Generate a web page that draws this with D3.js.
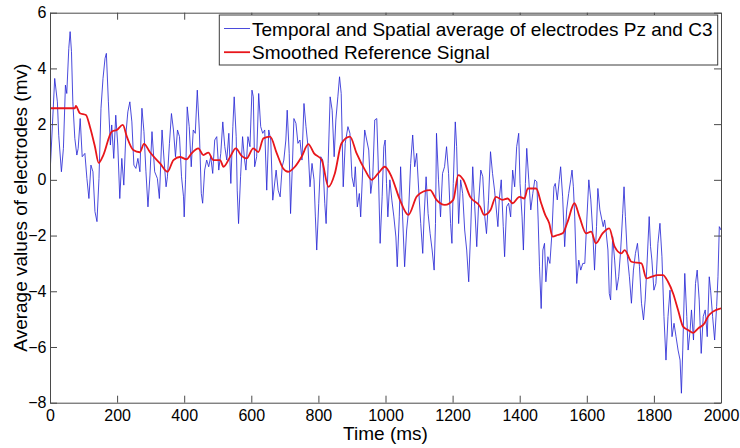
<!DOCTYPE html>
<html>
<head>
<meta charset="utf-8">
<script src="https://cdn.jsdelivr.net/npm/d3@7"></script>
<style>
  html, body { margin: 0; padding: 0; background: #ffffff; }
  svg { display: block; font-family: "Liberation Sans", Arial, sans-serif; }
</style>
</head>
<body>
<svg id="chart" width="740" height="448"></svg>
<script>
// Averaged electrode signal, [time (ms), amplitude (mv)]
const signal = [
  [0,0.2],[14,3.64],[22,2.8],[26,1.6],[34,0.29],[40,1.13],[46,3.4],[50,3.1],[56,4.72],[60,5.32],[64,4.6],[68,2.8],[74,1.49],[80,0.89],[84,1.13],[90,2.2],[96,0.83],[104,0.95],[110,0.05],[116,-0.67],[122,0.53],[128,0.29],[134,-1.14],[140,-1.5],[146,0.05],[152,2.57],[158,3.64],[164,4.36],[168,4.54],[174,2.8],[180,1.25],[184,1.97],[190,0.77],[196,2.32],[202,1.25],[208,-0.67],[214,0.77],[220,-0.19],[226,1.6],[232,2.44],[238,2.8],[244,2.08],[250,0.53],[256,0.41],[262,0.77],[268,0.29],[274,2.57],[280,1.73],[286,0.29],[292,-0.97],[298,0.17],[304,1.73],[312,0.29],[320,0.05],[326,-0.67],
  [334,1.79],[340,0.71],[346,-0.25],[350,0.11],[356,1.31],[362,2.38],[368,1.79],[374,0.83],[380,1.79],[386,1.55],[392,0.11],[398,-0.61],[400,-1.33],[404,0],[409,2.62],[415,1.91],[421,0.47],[427,1.79],[433,1.67],[439,3.22],[445,1.79],[451,-0.49],[455,-0.84],[461,0.35],[467,0.71],[473,0.47],[479,0.83],[485,0.23],[491,1.43],[497,1.55],[503,0.35],[509,0.95],[515,2.08],[521,1.19],[527,0.71],[533,1.67],[539,-0.13],[545,1.91],[549,2.98],[555,1.55],[558,-0.37],[562,-1.57],[568,0.11],[574,1.55],[580,0.71],[584,0.35],[590,1.55],[596,1.19],[602,3.22],[606,2.98],[610,0.47],[616,0.83],[622,3.1],[628,1.91],[634,1.67],[640,1.79],[646,-0.37],[652,1.79],[658,1.43],[664,-0.73],
  [674,0.35],[680,-0.37],[686,-0.61],[692,0.47],[697,0.71],[703,1.43],[707,2.5],[713,0.95],[717,-1.21],[723,0.71],[727,2.2],[733,2.03],[739,1.31],[745,1.43],[751,0.71],[757,2.74],[763,1.91],[769,1.19],[775,-0.25],[781,0.59],[787,0],[791,-1.33],[795,-2.52],[801,-0.84],[807,0.83],[813,0.71],[819,-0.84],[823,-1.57],[829,0.59],[835,2.98],[841,2.5],[847,0.83],[852,2.15],[858,2.98],[863,3.7],[868,3.1],[874,-0.25],[880,1.31],[888,1.91],[894,1.67],[900,0.11],[906,-0.25],[910,0.47],[916,-0.97],[922,-0.49],[926,-1.33],[932,0.35],[938,1.79],[944,1.43],[950,1.07],[956,-0.49],[962,0.11],[968,2.15],[974,2.2],[978,0.71],[984,-2.28],[990,-0.61],
  [995,1.19],[999,1.43],[1003,-0.13],[1007,-1.33],[1013,0],[1019,-0.73],[1025,-1.33],[1031,-2.05],[1035,-3.12],[1041,-1.33],[1045,0.47],[1051,-1.33],[1057,-3.12],[1063,-1.8],[1069,-1.08],[1075,0.59],[1081,1.61],[1087,0.47],[1093,0.95],[1099,-0.37],[1105,-1.57],[1111,-2.64],[1115,-1.33],[1121,0.11],[1127,-1.21],[1133,-1.93],[1139,-2.52],[1145,-3.24],[1149,-1.57],[1152,1.67],[1158,0],[1164,-1.33],[1170,0.23],[1176,0.47],[1182,1.19],[1188,0.23],[1194,-1.57],[1198,-2.28],[1202,-0.13],[1208,2.08],[1212,1.19],[1218,-1.57],[1224,0],[1230,-0.49],[1236,-1.8],[1242,-2.52],[1248,-3.66],[1254,-1.8],[1260,0.47],[1266,-0.97],[1272,-2.4],[1278,-0.73],[1284,0.35],[1290,0.11],[1296,-1.33],[1301,-1.93],[1307,-0.73],[1313,1.01],[1319,0.23],[1325,-0.37],
  [1335,-1.68],[1339,-0.72],[1345,0],[1351,-1.68],[1355,-2.76],[1361,-0.96],[1367,-0.84],[1373,-1.33],[1379,0.35],[1385,-0.25],[1391,1.19],[1397,1.67],[1401,-0.13],[1407,-1.33],[1411,-2.52],[1417,-0.13],[1421,1.13],[1427,0],[1433,-1.08],[1439,-0.49],[1445,0],[1451,-0.07],[1455,-1.44],[1459,-3.12],[1464,-4.62],[1469,-2.52],[1474,-2.28],[1478,-3.66],[1484,-2.76],[1490,-3.0],[1496,-1.92],[1502,-0.25],[1506,-0.13],[1512,-0.72],[1518,0],[1522,0.47],[1528,-0.61],[1534,-2.4],[1540,-1.08],[1546,-0.49],[1552,0],[1556,0.35],[1560,-0.25],[1564,-1.33],[1570,-3.72],[1576,-2.88],[1582,-3.24],[1588,-3.0],[1594,-3.0],[1600,-1.44],[1606,0],[1612,-0.72],[1618,-1.92],[1623,-3.24],[1629,-1.68],[1633,-0.31],[1639,-1.08],[1645,-1.44],[1649,-1.68],[1653,-1.44],[1657,-1.8],[1663,-2.52],[1667,-4.08],
  [1671,-4.31],[1677,-2.04],[1683,-2.88],[1689,-3.96],[1695,-3.48],[1701,-2.52],[1707,-1.2],[1711,-0.25],[1715,-1.32],[1721,-2.76],[1727,-3.48],[1733,-4.43],[1739,-3.24],[1745,-2.64],[1751,-2.28],[1757,-3.12],[1763,-4.43],[1769,-5.03],[1774,-4.31],[1780,-2.88],[1786,-1.32],[1790,-2.4],[1794,-2.88],[1800,-3.96],[1806,-3.72],[1812,-2.28],[1818,-1.56],[1824,-2.76],[1830,-4.91],[1836,-6.47],[1842,-4.91],[1848,-3.96],[1854,-5.63],[1860,-5.15],[1866,-5.63],[1872,-6.11],[1878,-6.47],[1882,-7.66],[1886,-6.11],[1892,-3.36],[1898,-4.91],[1902,-6.11],[1908,-5.39],[1912,-4.67],[1918,-5.75],[1924,-3.72],[1929,-3.24],[1935,-4.31],[1941,-6.23],[1947,-4.91],[1953,-4.67],[1959,-5.63],[1965,-3.48],[1969,-3.96],[1975,-4.91],[1981,-5.75],[1987,-4.55],[1991,-3.48],[1995,-1.68],[2000,-1.8]
];

// Smoothed reference, [time (ms), amplitude (mv)]
const smoothed = [
  [0,2.57],[74,2.57],[77,2.65],[89,2.39],[107,2.33],[119,1.91],[134,1.19],[145,0.61],[159,0.89],[184,1.73],[199,1.79],[217,1.97],[229,1.55],[248,1.07],[268,0.99],[280,1.29],[298,0.99],[328,0.59],[350,0.29],[368,0.71],[387,0.82],[407,0.74],[422,0.95],[442,1.13],[457,0.89],[472,0.98],[487,0.71],[507,0.71],[517,0.47],[537,0.83],[554,1.13],[571,0.86],[586,0.77],[606,1.13],[621,1.0],[636,1.49],[656,1.55],[676,0.95],[695,0.41],[710,0.29],[730,0.47],[750,0.83],[770,1.28],[787,0.95],[810,0.71],[830,-0.25],[849,0.23],[869,1.31],[894,1.55],[914,0.95],[939,0.35],[959,0.0],[978,0.23],[998,0.47],[1018,0.11],[1043,-0.72],[1068,-1.26],[1093,-0.6],[1113,-0.42],[1133,-0.37],[1152,-0.72],[1177,-0.9],[1202,-0.72],[1217,0.17],[1232,0.0],[1252,-0.6],[1282,-0.96],[1294,-1.26],[1313,-1.08],[1329,-0.61],[1349,-0.72],[1364,-0.67],[1379,-0.84],[1399,-0.61],[1414,-0.67],[1424,-0.31],[1449,-0.31],[1464,-0.84],[1476,-1.26],[1488,-1.56],[1498,-2.04],[1513,-1.98],[1528,-1.92],[1543,-1.5],[1563,-0.84],[1578,-1.32],[1598,-1.92],[1613,-1.86],[1627,-2.28],[1647,-1.92],[1667,-1.74],[1683,-2.4],[1703,-2.64],[1713,-2.52],[1733,-2.94],[1763,-3.0],[1778,-3.54],[1792,-3.48],[1812,-3.42],[1827,-3.42],[1842,-3.66],[1857,-4.07],[1872,-4.67],[1887,-5.27],[1902,-5.39],[1917,-5.49],[1932,-5.33],[1951,-5.15],[1961,-4.91],[1976,-4.73],[2000,-4.61]
];

const xTicks = [0, 200, 400, 600, 800, 1000, 1200, 1400, 1600, 1800, 2000];
const yTicks = [-8, -6, -4, -2, 0, 2, 4, 6];
const seriesNames = [
  "Temporal and Spatial average of electrodes Pz and C3",
  "Smoothed Reference Signal"
];
const seriesColors = ["#2a2ad6", "#e8161b"];

const svg = d3.select("#chart");
const W = 740, H = 448;
const margin = { top: 12.7, right: 19, bottom: 45.3, left: 50 };
const iw = W - margin.left - margin.right;
const ih = H - margin.top - margin.bottom;

svg.append("rect").attr("width", W).attr("height", H).attr("fill", "#ffffff");

const x = d3.scaleLinear().domain([0, 2000]).range([0, iw]);
const y = d3.scaleLinear().domain([-8, 6]).range([ih, 0]);

const g = svg.append("g").attr("transform", `translate(${margin.left},${margin.top})`);

g.append("defs").append("clipPath").attr("id", "plotClip")
  .append("rect").attr("width", iw).attr("height", ih);

const line = d3.line().x(d => x(d[0])).y(d => y(d[1]));
const smoothLine = d3.line().x(d => x(d[0])).y(d => y(d[1])).curve(d3.curveMonotoneX);

const plot = g.append("g").attr("clip-path", "url(#plotClip)");
plot.append("path").datum(signal)
  .attr("d", line)
  .attr("fill", "none")
  .attr("stroke", seriesColors[0])
  .attr("stroke-width", 0.85)
  .attr("stroke-linejoin", "round");
plot.append("path").datum(smoothed)
  .attr("d", smoothLine)
  .attr("fill", "none")
  .attr("stroke", seriesColors[1])
  .attr("stroke-width", 1.8)
  .attr("stroke-linejoin", "round");

// Boxed axes with inward ticks
const axisColor = "#4a4a4a";
function styleAxis(sel) {
  sel.selectAll(".domain").attr("stroke", axisColor).attr("stroke-width", 1);
  sel.selectAll(".tick line").attr("stroke", axisColor).attr("stroke-width", 1);
  sel.selectAll(".tick text").attr("fill", "#000").attr("font-size", 16)
    .attr("font-family", '"Liberation Sans", Arial, sans-serif');
}

g.append("g").attr("transform", `translate(0,${ih})`)
  .call(d3.axisBottom(x).tickValues(xTicks).tickFormat(d3.format("d")).tickSizeInner(-7).tickSizeOuter(0).tickPadding(6.6))
  .call(styleAxis);
g.append("g")
  .call(d3.axisTop(x).tickValues(xTicks).tickFormat("").tickSizeInner(-7).tickSizeOuter(0))
  .call(styleAxis);
g.append("g")
  .call(d3.axisLeft(y).tickValues(yTicks).tickFormat(d3.format("d")).tickSizeInner(-7).tickSizeOuter(0).tickPadding(3.5))
  .call(styleAxis);
g.append("g").attr("transform", `translate(${iw},0)`)
  .call(d3.axisRight(y).tickValues(yTicks).tickFormat("").tickSizeInner(-7).tickSizeOuter(0))
  .call(styleAxis);

// Axis titles
svg.append("text")
  .attr("x", margin.left + iw / 2).attr("y", 440)
  .attr("text-anchor", "middle").attr("font-size", 19).attr("fill", "#000")
  .text("Time (ms)");
svg.append("text")
  .attr("transform", `translate(26.7,${margin.top + ih / 2}) rotate(-90)`)
  .attr("text-anchor", "middle").attr("font-size", 19).attr("fill", "#000")
  .text("Average values of electrodes (mv)");

// Legend
const legend = svg.append("g");
legend.append("rect")
  .attr("x", 219.3).attr("y", 15).attr("width", 498.4).attr("height", 50)
  .attr("fill", "#ffffff").attr("stroke", "#3c3c3c").attr("stroke-width", 1);
const rows = legend.selectAll("g.row").data(seriesNames).join("g")
  .attr("class", "row")
  .attr("transform", (d, i) => `translate(0,${28.5 + i * 23.7})`);
rows.append("line")
  .attr("x1", 224).attr("x2", 250).attr("y1", 0).attr("y2", 0)
  .attr("stroke", (d, i) => seriesColors[i])
  .attr("stroke-width", (d, i) => i === 0 ? 0.85 : 1.8);
rows.append("text")
  .attr("x", 252).attr("y", 7).attr("font-size", 19).attr("fill", "#000")
  .text(d => d);
</script>
</body>
</html>
